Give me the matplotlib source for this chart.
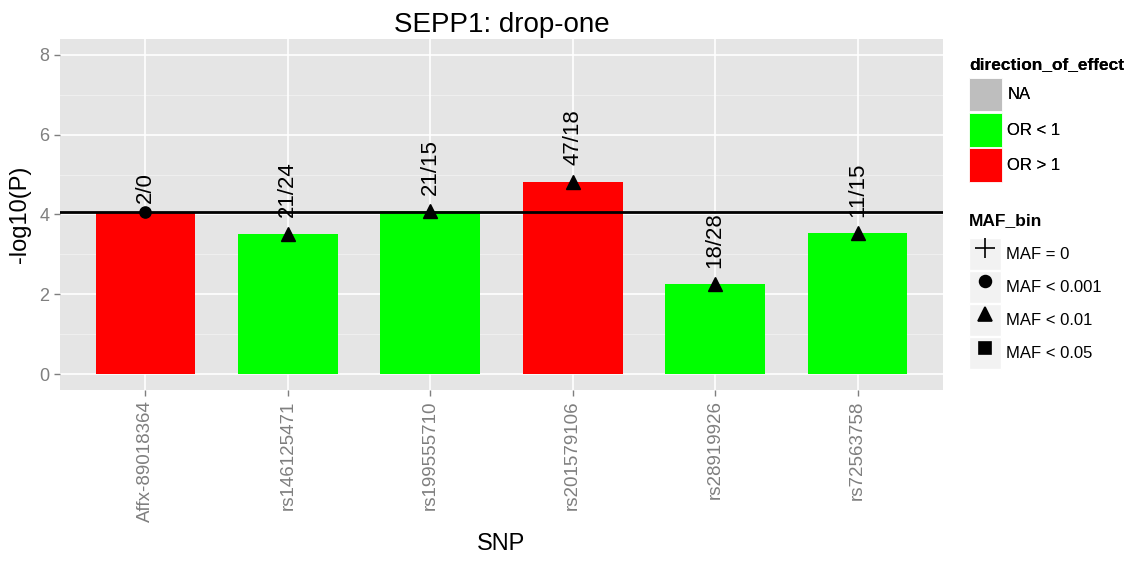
import numpy as np
import matplotlib
matplotlib.use("Agg")
import matplotlib.pyplot as plt
from matplotlib.patches import Patch
from matplotlib.lines import Line2D
from matplotlib.legend_handler import HandlerTuple
from matplotlib.textpath import TextPath
from matplotlib.font_manager import FontProperties

plt.rcParams["font.family"] = ["Liberation Sans", "DejaVu Sans"]

# ── data ──────────────────────────────────────────────────────────────────────
snps      = ["Affx-89018364", "rs146125471", "rs199555710",
             "rs201579106", "rs28919926", "rs72563758"]
neglogp   = [4.06, 3.51, 4.08, 4.82, 2.25, 3.54]
direction = ["OR > 1", "OR < 1", "OR < 1", "OR > 1", "OR < 1", "OR < 1"]
maf_bin   = ["MAF < 0.001", "MAF < 0.01", "MAF < 0.01",
             "MAF < 0.01", "MAF < 0.01", "MAF < 0.01"]
counts    = ["2/0", "21/24", "21/15", "47/18", "18/28", "11/15"]
threshold = 4.06

dir_levels = ["NA", "OR < 1", "OR > 1"]
dir_colors = {"NA": "#bebebe", "OR < 1": "#00ff00", "OR > 1": "#ff0000"}
maf_levels = ["MAF = 0", "MAF < 0.001", "MAF < 0.01", "MAF < 0.05"]
maf_marker = {"MAF = 0": "+", "MAF < 0.001": "o", "MAF < 0.01": "^", "MAF < 0.05": "s"}
maf_size   = {"MAF = 0": 14, "MAF < 0.001": 8.5, "MAF < 0.01": 10, "MAF < 0.05": 8}

# ── figure ────────────────────────────────────────────────────────────────────
fig = plt.figure(figsize=(11.45, 5.62), dpi=100)
ax = fig.add_axes([60 / 1145, 1 - 390 / 562, 883 / 1145, 351 / 562])
ax.set_facecolor("#e5e5e5")
for s in ax.spines.values():
    s.set_visible(False)

x = np.arange(1, len(snps) + 1)
ax.set_xlim(0.4, len(snps) + 0.6)
ax.set_ylim(-0.4, 8.4)

# grid
for yv in [1, 3, 5, 7]:
    ax.axhline(yv, color="#f2f2f2", linewidth=0.6, zorder=0)
for yv in [0, 2, 4, 6, 8]:
    ax.axhline(yv, color="white", linewidth=1.2, zorder=0)
for xv in x:
    ax.axvline(xv, color="white", linewidth=1.2, zorder=0)

ax.bar(x, neglogp, width=0.7, color=[dir_colors[d] for d in direction], zorder=2)
ax.axhline(threshold, color="black", linewidth=2.0, zorder=3)

for xi, yi, m in zip(x, neglogp, maf_bin):
    ax.plot(xi, yi, marker=maf_marker[m], markersize=maf_size[m] * 0.95,
            color="black", linestyle="none", zorder=4)

lab_fs = 16
fp = FontProperties(family="Liberation Sans")
for xi, yi, t in zip(x, neglogp, counts):
    w = TextPath((0, 0), t, size=lab_fs, prop=fp).get_extents().width
    ax.annotate(t, (xi, yi), xytext=(0, 0.31 * w), textcoords="offset points",
                rotation=90, ha="center", va="bottom", fontsize=lab_fs,
                color="black", zorder=5)

ax.set_yticks([0, 2, 4, 6, 8])
ax.set_xticks(x)
ax.set_xticklabels(snps, rotation=90, va="top")
ax.tick_params(axis="both", colors="#7f7f7f", labelsize=13, length=4, width=1)
ax.tick_params(axis="x", labelsize=13.5)
ax.set_xlabel("SNP", fontsize=17, labelpad=8)
ax.set_ylabel("-log10(P)", fontsize=17, labelpad=6)
ax.set_title("SEPP1: drop-one", fontsize=20, pad=5)

# ── legends ───────────────────────────────────────────────────────────────────
h1 = [Patch(facecolor=dir_colors[d], edgecolor="white", linewidth=0.6) for d in dir_levels]
leg1 = fig.legend(h1, dir_levels, loc="upper left", bbox_to_anchor=(969 / 1145, 1 - 57 / 562),
                  frameon=False, fontsize=12, title="direction_of_effect",
                  title_fontproperties={"weight": "bold", "size": 12.5},
                  handlelength=2.0, handleheight=2.75, labelspacing=0.08,
                  handletextpad=0.3, borderpad=0, borderaxespad=0, alignment="left")
leg1._legend_box.sep = 4

h2 = [(Patch(facecolor="#f2f2f2", edgecolor="white"),
       Line2D([], [], marker=maf_marker[m], markersize=maf_size[m], color="black",
              linestyle="none", markeredgewidth=1.2))
      for m in maf_levels]
leg2 = fig.legend(h2, maf_levels, loc="upper left", bbox_to_anchor=(969 / 1145, 1 - 213 / 562),
                  frameon=False, fontsize=12, title="MAF_bin",
                  title_fontproperties={"weight": "bold", "size": 12.5},
                  handlelength=1.9, handleheight=2.6, labelspacing=0.05,
                  handletextpad=0.35, borderpad=0, borderaxespad=0, alignment="left",
                  handler_map={tuple: HandlerTuple(ndivide=1, pad=0)})
leg2._legend_box.sep = 7
fig.add_artist(leg1)

fig.savefig("out.png", dpi=100)
